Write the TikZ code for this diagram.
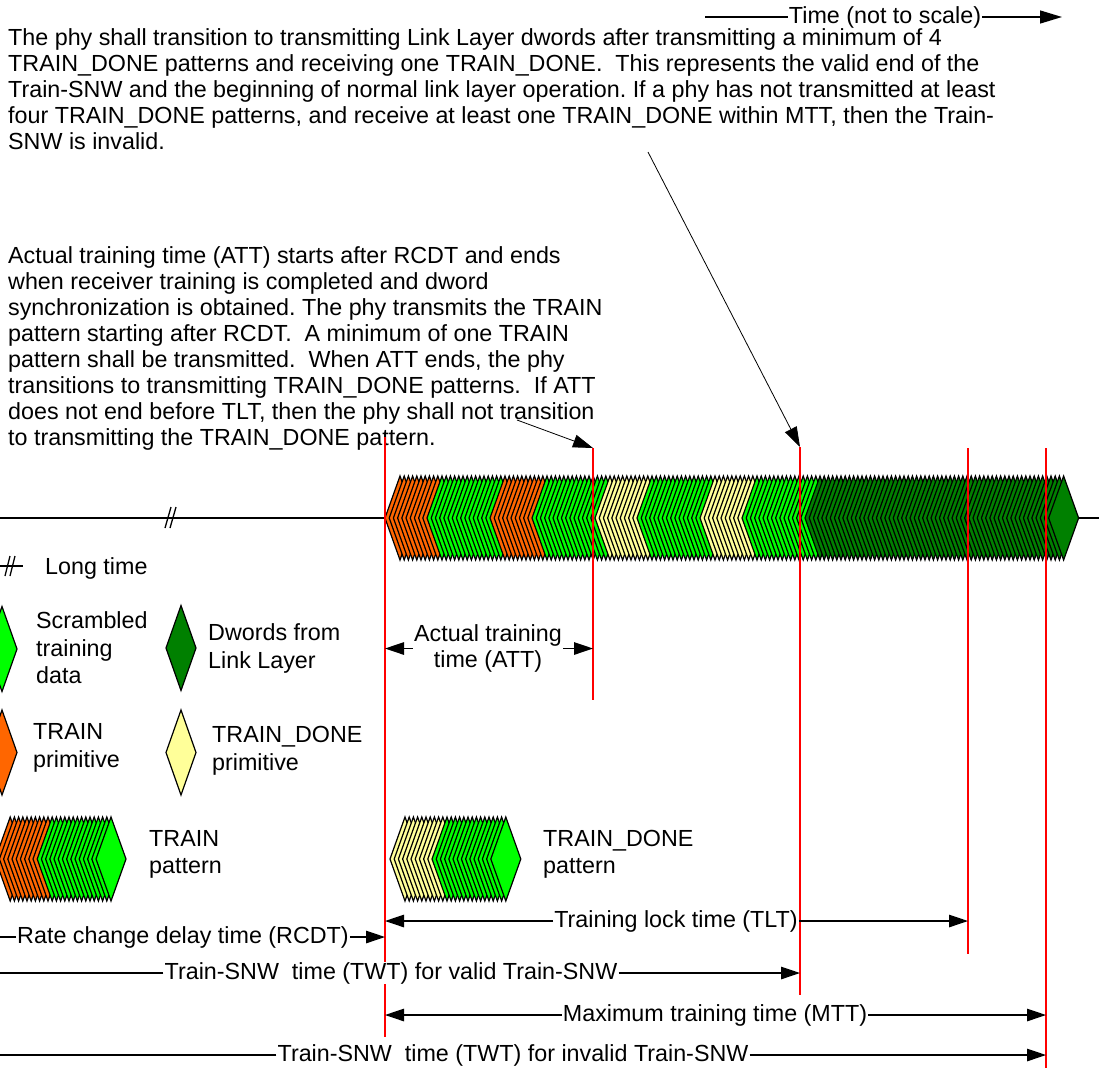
\documentclass[tikz,border=0pt]{standalone}
\usepackage{fontspec}
\setmainfont{Liberation Sans}
\usetikzlibrary{arrows.meta}
\definecolor{trainorg}{HTML}{FF6600}
\definecolor{scrgreen}{HTML}{00FF00}
\definecolor{dwgreen}{HTML}{008000}
\definecolor{doneyel}{HTML}{FFFF99}
\newcommand\chevs[4]{%
  \foreach \k in {1,...,#3}
    \filldraw[chev,fill=#4] ({#1+(\k-1)*4.2},#2) -- ++(15,-42) -- ++(15,42) -- ++(-15,42) -- cycle;}
\newcommand\gem[3]{\filldraw[chev,fill=#3] ({#1-15},#2) -- ++(15,-42.5) -- ++(15,42.5) -- ++(-15,42.5) -- cycle;}
\begin{document}
\begin{tikzpicture}[x=1pt,y=-1pt,>={Triangle[length=19pt,width=12.5pt]},
  txt/.style={font=\fontsize{23.3}{26}\selectfont\frenchspacing,inner sep=0pt,align=left,anchor=north west},
  lgd/.style={font=\fontsize{23.3}{27.5}\selectfont,inner sep=0pt,align=left,anchor=north west},
  lbl/.style={font=\fontsize{23.3}{26}\selectfont,fill=white,inner xsep=1pt,inner ysep=0pt},
  chev/.style={draw=black,line width=1.2pt},
  redl/.style={red,line width=1.5pt},
  dim/.style={line width=1.3pt},
  ptr/.style={line width=0.8pt,>={Triangle[length=20pt,width=13pt]}}]
\useasboundingbox (0,0) rectangle (1099,1068);
\clip (0,0) rectangle (1099,1068);
\coordinate (l0) at (0,0);
% time direction
\node[lbl] (time) at (885,17) {Time (not to scale)};
\coordinate (t0) at (705,17);
\coordinate (t1) at (1062,17);
\draw[dim] (t0) -- (time);
\draw[dim,->,>={Triangle[length=22pt,width=13pt]}] (time) -- (t1);
% notes
\node[txt] (p1) at (8,28.5) {The phy shall transition to transmitting Link Layer dwords after transmitting a minimum of 4\\
TRAIN\_DONE patterns and receiving one TRAIN\_DONE.\ \ This represents the valid end of the\\
Train-SNW and the beginning of normal link layer operation. If a phy has not transmitted at least\\
four TRAIN\_DONE patterns, and receive at least one TRAIN\_DONE within MTT, then the Train-\\
SNW is invalid.};
\node[txt] (p2) at (8,246.5) {Actual training time (ATT) starts after RCDT and ends\\
when receiver training is completed and dword\\
synchronization is obtained. The phy transmits the TRAIN\\
pattern starting after RCDT.\ \ A minimum of one TRAIN\\
pattern shall be transmitted.\ \ When ATT ends, the phy\\
transitions to transmitting TRAIN\_DONE patterns.\ \ If ATT\\
does not end before TLT, then the phy shall not transition\\
to transmitting the TRAIN\_DONE pattern.};
% time line
\draw[dim] (0,518) -- (1099,518);
\draw[dim] (165,528) -- (171,507) (170,528) -- (176,507);
\chevs{385}{518}{10}{trainorg}
\chevs{427}{518}{15}{scrgreen}
\chevs{490}{518}{10}{trainorg}
\chevs{532}{518}{15}{scrgreen}
\chevs{595}{518}{10}{doneyel}
\chevs{637}{518}{15}{scrgreen}
\chevs{700}{518}{10}{doneyel}
\chevs{742}{518}{15}{scrgreen}
\chevs{805}{518}{59}{dwgreen}
% legend
\draw[dim] (0,566) -- (23,566);
\draw[dim] (5,576) -- (10,556) (10,576) -- (15,556);
\node[lgd,anchor=base west] (long) at (45,574) {Long time};
\gem{2}{649}{scrgreen}
\node[lgd] (scr) at (36,611.5) {Scrambled\\training\\data};
\gem{181}{648}{dwgreen}
\node[lgd] (dw) at (208,623.5) {Dwords from\\Link Layer};
\gem{2}{752.5}{trainorg}
\node[lgd] (trp) at (33,723.5) {TRAIN\\primitive};
\gem{181}{752.5}{doneyel}
\node[lgd] (tdp) at (212,726.5) {TRAIN\_DONE\\primitive};
\chevs{-4.8}{859}{10}{trainorg}
\chevs{37.2}{859}{15}{scrgreen}
\node[lgd] (trpat) at (149,830) {TRAIN\\pattern};
\chevs{390}{859}{10}{doneyel}
\chevs{432}{859}{15}{scrgreen}
\node[lgd] (tdpat) at (543,830) {TRAIN\_DONE\\pattern};
% markers
\coordinate (r1) at (385,437);  \coordinate (r1b) at (385,1037);
\coordinate (r2) at (593,448);  \coordinate (r2b) at (593,700);
\coordinate (r3) at (800,447);  \coordinate (r3b) at (800,995);
\coordinate (r4) at (968,448);  \coordinate (r4b) at (968,954);
\coordinate (r5) at (1046,448); \coordinate (r5b) at (1046,1068);
\foreach \r in {1,...,5} \draw[redl] (r\r) -- (r\r b);
\coordinate (n1) at (648,152);
\coordinate (n2) at (517,420);
\draw[ptr,->] (n1) -- (r3);
\draw[ptr,->] (n2) -- (r2);
% intervals
\node[lbl,align=center] (att) at (488,648.5) {Actual training\\time (ATT)};
\draw[dim,->] (att) -- (att -| r1);
\draw[dim,->] (att) -- (att -| r2);
\node[lbl] (tlt) at (676,921) {Training lock time (TLT)};
\draw[dim,->] (tlt) -- (tlt -| r1);
\draw[dim,->] (tlt) -- (tlt -| r4);
\node[lbl] (rcdt) at (183,937) {Rate change delay time (RCDT)};
\draw[dim] (rcdt) -- (rcdt -| l0);
\draw[dim,->] (rcdt) -- (rcdt -| r1);
\node[lbl] (twtv) at (391,973) {Train-SNW\ \ time (TWT) for valid Train-SNW};
\draw[dim] (twtv) -- (twtv -| l0);
\draw[dim,->] (twtv) -- (twtv -| r3);
\node[lbl] (mtt) at (715,1015) {Maximum training time (MTT)};
\draw[dim,->] (mtt) -- (mtt -| r1);
\draw[dim,->] (mtt) -- (mtt -| r5);
\node[lbl] (twti) at (513,1055) {Train-SNW\ \ time (TWT) for invalid Train-SNW};
\draw[dim] (twti) -- (twti -| l0);
\draw[dim,->] (twti) -- (twti -| r5);
\end{tikzpicture}
\end{document}
